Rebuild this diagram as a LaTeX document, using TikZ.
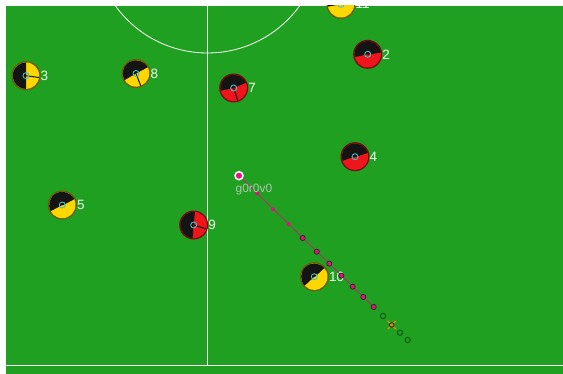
\documentclass[tikz,border=0pt]{standalone}
\usepackage{fontspec}
\setmainfont{Liberation Sans}
\usetikzlibrary{calc}
\definecolor{field}{RGB}{32,160,32}
\definecolor{teamY}{RGB}{255,215,0}
\definecolor{rimY}{RGB}{110,90,0}
\definecolor{teamR}{RGB}{238,22,26}
\definecolor{rimR}{RGB}{120,10,10}
\definecolor{sector}{RGB}{20,20,20}
\definecolor{eye}{RGB}{70,190,200}
\definecolor{ballc}{RGB}{228,18,128}
\definecolor{trail}{RGB}{185,40,115}
\definecolor{ghost}{RGB}{10,70,10}
\definecolor{numc}{RGB}{235,255,235}
\definecolor{balltxt}{RGB}{175,195,175}
\definecolor{markor}{RGB}{240,140,0}
\tikzset{
  fieldline/.style={white,line width=1},
  plabel/.style={anchor=west,inner sep=0,text=numc,font=\fontsize{13.5}{15}\selectfont},
  bodyline/.style={sector,line width=1},
  eyering/.style={eye,line width=0.9},
  predot/.style={fill=ballc,draw=black!85,line width=0.7},
  smalldot/.style={fill=ballc},
  ghostdot/.style={draw=ghost,line width=0.8}
}
\newcommand\player[8]{%
  \fill[#4] (#1,#2) circle[radius=14.5];
  \fill[#3] (#1,#2) circle[radius=13.2];
  \fill[sector] (#1,#2) -- ++(-#5:13.2) arc[start angle=-#5, end angle=-#6, radius=13.2] -- cycle;
  \draw[bodyline] (#1,#2) -- ++(-#7:13.2);
  \draw[eyering] (#1,#2) circle[radius=3];
  \node[plabel] (p#8) at (#1+14.5,#2) {#8};
}
\begin{document}
\begin{tikzpicture}[x=1pt,y=1pt,yscale=-1]
\useasboundingbox (0,0) rectangle (563,374);
\fill[white] (0,0) rectangle (563,374);
\begin{scope}
\clip (6,6) rectangle (563,374);
\fill[field] (6,6) rectangle (563,374);
% field lines
\draw[fieldline] (6,365.7) -- (563,365.7);
\draw[fieldline] (207.3,0) -- (207.3,365.7);
\draw[white,line width=0.8] (207.5,-60.5) circle[radius=113.5];
% players
\player{26}{75.7}{teamY}{rimY}{90}{270}{352}{3}
\player{136}{73.5}{teamY}{rimY}{28}{210}{291}{8}
\player{233.7}{88}{teamR}{rimR}{23}{192}{288}{7}
\player{367.7}{54.3}{teamR}{rimR}{10}{192}{10}{2}
\player{355}{156.7}{teamR}{rimR}{19}{198}{19}{4}
\player{62.3}{205}{teamY}{rimY}{28}{208}{28}{5}
\player{193.7}{225}{teamR}{rimR}{85}{265}{343}{9}
\player{314.3}{276.7}{teamY}{rimY}{43}{223}{43}{10}
\player{341}{4.3}{teamY}{rimY}{10}{190}{10}{11}
% ball trajectory
\coordinate (ball) at (239,175.7);
\coordinate (tend) at (373.7,307);
\draw[trail,line width=0.8] (ball) -- (tend);
\foreach \px/\py in {257.3/193.3,273/209.3,288.7/224}
  \fill[smalldot] (\px,\py) circle[radius=2];
\foreach \px/\py in {302.7/238,316.7/251.7,329.3/263.7,341.3/275.7,352.7/286.7,363.3/297,373.7/307}
  \filldraw[predot] (\px,\py) circle[radius=2.6];
\foreach \px/\py in {383/316,400/332.7,407.7/340}
  \draw[ghostdot] (\px,\py) circle[radius=2.6];
% marker
\coordinate (mk) at (391.7,325);
\draw[markor,line width=1.2] ($(mk)+(-4,-4)$) -- ($(mk)+(4,4)$);
\draw[markor,line width=1.2] ($(mk)+(-4,4)$) -- ($(mk)+(4,-4)$);
\draw[black!85,line width=0.8] (mk) circle[radius=2.3];
% ball
\filldraw[fill=ballc,draw=white,line width=1.5] (ball) circle[radius=4];
\node[text=balltxt,inner sep=0,font=\fontsize{12}{14}\selectfont] (balllabel) at (254,190) {g0r0v0};
\end{scope}
\end{tikzpicture}
\end{document}
